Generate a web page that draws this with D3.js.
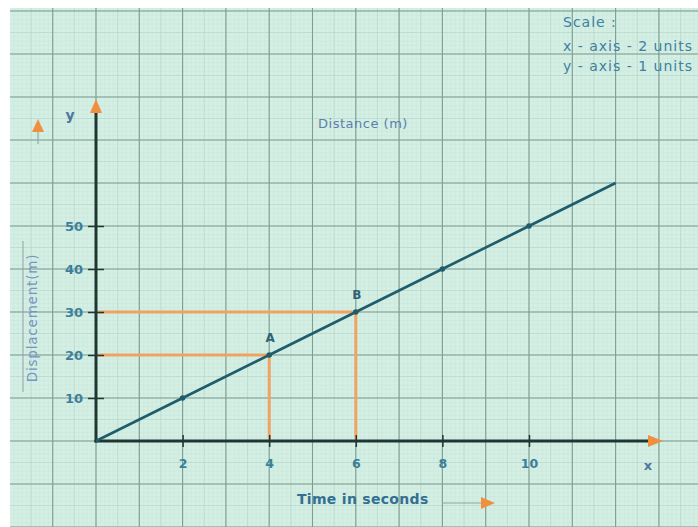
<!DOCTYPE html>
<html>
<head>
<meta charset="utf-8">
<script src="https://cdn.jsdelivr.net/npm/d3@7"></script>
<style>
  html, body { margin: 0; padding: 0; background: #ffffff; }
  svg { display: block; }
  text { font-family: "DejaVu Sans", Verdana, sans-serif; }
</style>
</head>
<body>
<svg id="chart" width="698" height="527"></svg>
<script>
// Uniform motion: displacement grows 5 m every second
const times = [0, 2, 4, 6, 8, 10, 12];
const displacement = [0, 10, 20, 30, 40, 50, 60];
const markedTimes = [2, 4, 6, 8, 10];
const markedDisp = [10, 20, 30, 40, 50];
const xTickValues = [2, 4, 6, 8, 10];
const xTickLabels = ["2", "4", "6", "8", "10"];
const yTickValues = [10, 20, 30, 40, 50];
const yTickLabels = ["10", "20", "30", "40", "50"];
const guidePoints = [{ name: "A", t: 4, s: 20 }, { name: "B", t: 6, s: 30 }];
const scaleNotes = ["Scale :", "x - axis - 2 units", "y - axis - 1 units"];

const W = 698, H = 527;
const svg = d3.select("#chart");

// origin at (96, 441); one second = 43.3 px, one metre = 4.3 px
const x = d3.scaleLinear().domain([0, 12]).range([96, 96 + 12 * 43.3]);
const y = d3.scaleLinear().domain([0, 60]).range([441, 441 - 60 * 4.3]);

// graph paper
const paper = { x0: 10, y0: 8 };
svg.append("rect").attr("x", paper.x0).attr("y", paper.y0)
  .attr("width", W - paper.x0).attr("height", H - paper.y0)
  .attr("fill", "#d4efe4");

const clip = svg.append("defs").append("clipPath").attr("id", "paperClip");
clip.append("rect").attr("x", paper.x0).attr("y", paper.y0)
  .attr("width", W - paper.x0).attr("height", H - paper.y0);

const grid = svg.append("g").attr("clip-path", "url(#paperClip)");
const xMin = x.invert(paper.x0), xMax = x.invert(W);
const yMin = y.invert(H), yMax = y.invert(paper.y0);

function gridLines(stepX, stepY, color, width) {
  const xs = d3.range(Math.floor(xMin / stepX) * stepX, xMax + stepX, stepX);
  const ys = d3.range(Math.floor(yMin / stepY) * stepY, yMax + stepY, stepY);
  grid.append("g").selectAll("line").data(xs).join("line")
    .attr("x1", d => x(d)).attr("x2", d => x(d))
    .attr("y1", paper.y0).attr("y2", H)
    .attr("stroke", color).attr("stroke-width", width);
  grid.append("g").selectAll("line").data(ys).join("line")
    .attr("y1", d => y(d)).attr("y2", d => y(d))
    .attr("x1", paper.x0).attr("x2", W)
    .attr("stroke", color).attr("stroke-width", width);
}
gridLines(0.1, 1, "#c9e5d9", 0.5);
gridLines(0.5, 5, "#b9d7ca", 0.7);
gridLines(1, 10, "#7f9e92", 1.1);

// orange guide lines for A and B
const guides = svg.append("g");
guidePoints.forEach(p => {
  guides.append("line")
    .attr("x1", x(0) + 2).attr("x2", x(p.t))
    .attr("y1", y(p.s)).attr("y2", y(p.s))
    .attr("stroke", "#f0a263").attr("stroke-width", 3);
  guides.append("line")
    .attr("x1", x(p.t)).attr("x2", x(p.t))
    .attr("y1", y(p.s)).attr("y2", y(0) - 2)
    .attr("stroke", "#f0a263").attr("stroke-width", 3);
});

// axes
const axisColor = "#1f3633";
const labelColor = "#3b7f9c";

const yAxis = svg.append("g").attr("transform", `translate(${x(0)},0)`)
  .call(d3.axisLeft(y).tickValues(yTickValues)
    .tickFormat((d, i) => yTickLabels[i]).tickSize(8).tickPadding(5));
yAxis.select(".domain").remove();
yAxis.selectAll(".tick line").attr("x1", -8).attr("x2", 8)
  .attr("stroke", axisColor).attr("stroke-width", 1.5);
yAxis.selectAll(".tick text").attr("x", -13)
  .attr("fill", labelColor).attr("font-size", 13).attr("font-weight", "bold")
  .attr("font-family", "'DejaVu Sans', sans-serif");

const xAxis = svg.append("g").attr("transform", `translate(0,${y(0)})`)
  .call(d3.axisBottom(x).tickValues(xTickValues)
    .tickFormat((d, i) => xTickLabels[i]).tickSize(6));
xAxis.select(".domain").remove();
xAxis.selectAll(".tick line").attr("y1", -6).attr("y2", 6)
  .attr("stroke", axisColor).attr("stroke-width", 1.5);
xAxis.selectAll(".tick text").attr("y", 18)
  .attr("fill", labelColor).attr("font-size", 12.5).attr("font-weight", "bold")
  .attr("font-family", "'DejaVu Sans', sans-serif");

svg.append("line").attr("x1", x(0)).attr("x2", x(0))
  .attr("y1", y(0) + 1.5).attr("y2", 110)
  .attr("stroke", axisColor).attr("stroke-width", 3);
svg.append("line").attr("x1", x(0) - 1.5).attr("x2", 650)
  .attr("y1", y(0)).attr("y2", y(0))
  .attr("stroke", axisColor).attr("stroke-width", 3);

// arrowheads
const orange = "#f0903f";
svg.append("path")
  .attr("d", `M${x(0)},99 L${x(0) + 6},113 L${x(0) - 6},113 Z`)
  .attr("fill", orange);
svg.append("path")
  .attr("d", `M663,${y(0)} L648,${y(0) - 6} L648,${y(0) + 6} Z`)
  .attr("fill", orange);

// displacement line
svg.append("path")
  .datum(times.map((t, i) => [t, displacement[i]]))
  .attr("d", d3.line().x(d => x(d[0])).y(d => y(d[1])))
  .attr("fill", "none").attr("stroke", "#1f5d6c").attr("stroke-width", 2.6);

svg.append("g").selectAll("circle")
  .data(markedTimes.map((t, i) => [t, markedDisp[i]]))
  .join("circle")
  .attr("cx", d => x(d[0])).attr("cy", d => y(d[1])).attr("r", 2.8)
  .attr("fill", "#1f5d6c");

// point names
svg.append("g").selectAll("text").data(guidePoints).join("text")
  .attr("x", d => x(d.t) + 1).attr("y", d => y(d.s) - 13)
  .attr("text-anchor", "middle").attr("font-size", 12).attr("font-weight", "bold")
  .attr("fill", "#2d6378").text(d => d.name);

// axis names
svg.append("text").attr("x", 70).attr("y", 120).attr("text-anchor", "middle")
  .attr("font-size", 14).attr("font-weight", "bold").attr("fill", "#4d78a0").text("y");
svg.append("text").attr("x", 648).attr("y", 470).attr("text-anchor", "middle")
  .attr("font-size", 13).attr("font-weight", "bold").attr("fill", "#4d78a0").text("x");

// small upward arrow beside the y name
svg.append("line").attr("x1", 38).attr("x2", 38).attr("y1", 128).attr("y2", 144)
  .attr("stroke", "#8fa8a0").attr("stroke-width", 1.2);
svg.append("path").attr("d", "M38,119 L44,132 L32,132 Z").attr("fill", orange);

svg.append("text").attr("x", 363).attr("y", 128).attr("text-anchor", "middle")
  .attr("font-size", 13).attr("letter-spacing", 0.5)
  .attr("fill", "#5f7eae").text("Distance (m)");

svg.append("text")
  .attr("transform", "translate(37,318) rotate(-90)")
  .attr("text-anchor", "middle").attr("font-size", 13.5).attr("letter-spacing", 0.8)
  .attr("fill", "#7694c4").text("Displacement(m)");
svg.append("line").attr("x1", 23).attr("x2", 23).attr("y1", 241).attr("y2", 392)
  .attr("stroke", "#8fa3a8").attr("stroke-width", 1);

svg.append("text").attr("x", 297).attr("y", 504)
  .attr("font-size", 14).attr("font-weight", "bold").attr("letter-spacing", 0.3)
  .attr("fill", "#336f92").text("Time in seconds");
svg.append("line").attr("x1", 442).attr("x2", 482).attr("y1", 503).attr("y2", 503)
  .attr("stroke", "#8fa8a0").attr("stroke-width", 1.2);
svg.append("path").attr("d", "M495,503 L481,497 L481,509 Z").attr("fill", orange);

// scale note
svg.append("g").selectAll("text").data(scaleNotes).join("text")
  .attr("x", 563).attr("y", (d, i) => [27, 51, 71][i])
  .attr("font-size", 14).attr("letter-spacing", 1)
  .attr("fill", "#3c81a2").text(d => d);
</script>
</body>
</html>
